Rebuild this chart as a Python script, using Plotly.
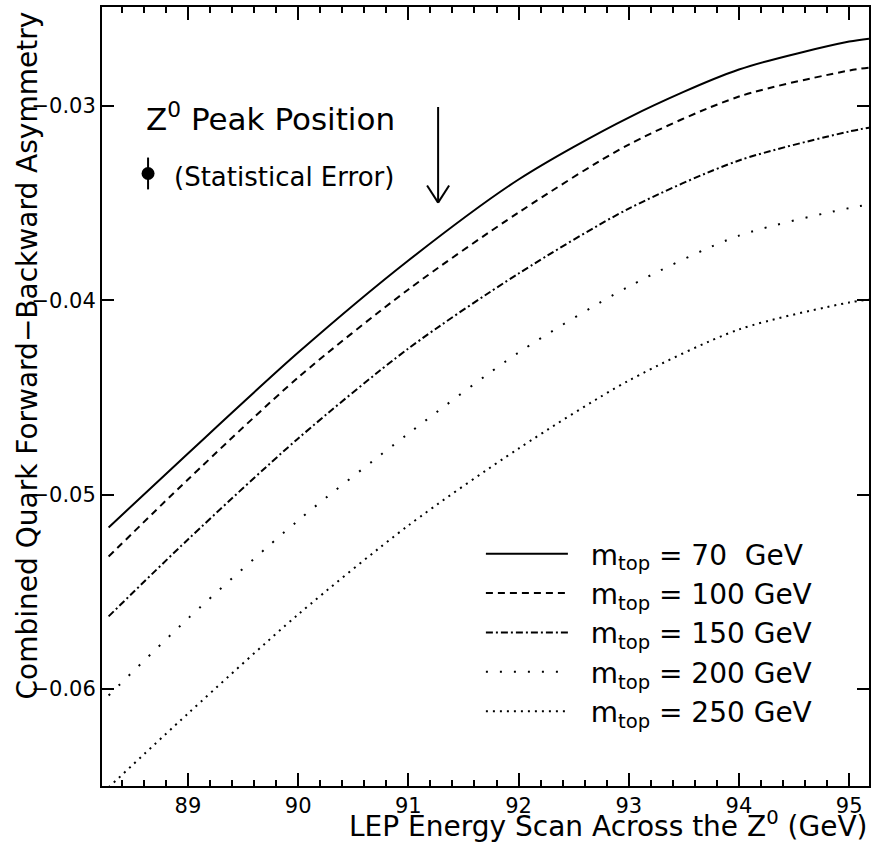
import plotly.graph_objects as go

# ---- data ----
energy = [88.28, 89, 90, 91, 92, 93, 94, 95, 95.18]
afb_70 = [-0.05169, -0.04788, -0.04269, -0.03795, -0.03378, -0.03059, -0.02812, -0.02668, -0.02653]
afb_100 = [-0.05319, -0.04922, -0.04397, -0.03944, -0.03548, -0.03198, -0.02951, -0.02817, -0.02802]
afb_150 = [-0.05627, -0.05231, -0.04711, -0.04248, -0.03862, -0.03528, -0.03280, -0.03131, -0.03111]
afb_200 = [-0.06034, -0.05638, -0.05133, -0.04686, -0.04269, -0.03929, -0.03667, -0.03525, -0.03507]
afb_250 = [-0.06507, -0.06127, -0.05617, -0.05159, -0.04763, -0.04413, -0.04150, -0.04011, -0.03996]

series_names = [
    "\u00a0\u00a0m<sub>top</sub> = 70\u00a0\u00a0GeV",
    "\u00a0\u00a0m<sub>top</sub> = 100 GeV",
    "\u00a0\u00a0m<sub>top</sub> = 150 GeV",
    "\u00a0\u00a0m<sub>top</sub> = 200 GeV",
    "\u00a0\u00a0m<sub>top</sub> = 250 GeV",
]
series_values = [afb_70, afb_100, afb_150, afb_200, afb_250]
series_dash = ["solid", "7px,5px", "7px,3px,2px,3px", "2px,12px", "2px,5px"]

x_ticks = [89, 90, 91, 92, 93, 94, 95]
y_ticks = [-0.06, -0.05, -0.04, -0.03]
y_ticktext = ["\u22120.06", "\u22120.05", "\u22120.04", "\u22120.03"]

peak_energy = 91.27
peak_arrow_top = -0.02997
peak_arrow_tip = -0.03497

err_point_x = [88.638]
err_point_y = [-0.03347]
err_size = [0.00082]

FONT = "DejaVu Sans"

fig = go.Figure()
for name, vals, dash in zip(series_names, series_values, series_dash):
    fig.add_trace(go.Scatter(
        x=energy, y=vals, mode="lines", name=name,
        line=dict(color="black", width=2, dash=dash, shape="spline", smoothing=0.8),
    ))

fig.add_trace(go.Scatter(
    x=err_point_x, y=err_point_y, mode="markers", showlegend=False,
    marker=dict(color="black", size=13),
    error_y=dict(type="data", array=err_size, color="black", thickness=2, width=0),
))

# arrow for Z0 peak position
fig.add_annotation(
    x=peak_energy, y=peak_arrow_tip, ax=peak_energy, ay=peak_arrow_top,
    xref="x", yref="y", axref="x", ayref="y",
    showarrow=True, arrowhead=0, arrowwidth=2, arrowcolor="black", text="",
)
head_dx = 0.1
head_dy = 0.00088
for s in (-1, 1):
    fig.add_shape(type="line", xref="x", yref="y",
                  x0=peak_energy + s * head_dx, y0=peak_arrow_tip + head_dy,
                  x1=peak_energy, y1=peak_arrow_tip,
                  line=dict(color="black", width=2))

fig.add_annotation(x=88.60, y=-0.03054, xref="x", yref="y", xanchor="left", yanchor="middle",
                   text="Z<sup>0</sup> Peak Position", showarrow=False,
                   font=dict(family=FONT, size=31, color="black"))
fig.add_annotation(x=88.855, y=-0.03363, xref="x", yref="y", xanchor="left", yanchor="middle",
                   text="(Statistical Error)", showarrow=False,
                   font=dict(family=FONT, size=26, color="black"))

# axis titles
fig.add_annotation(x=1.0, y=-0.049, xref="paper", yref="paper", xanchor="right", yanchor="middle",
                   text="LEP Energy Scan Across the Z<sup>0</sup> (GeV)", showarrow=False,
                   font=dict(family=FONT, size=28, color="black"))
fig.add_annotation(x=-0.0975, y=0.553, xref="paper", yref="paper", xanchor="center", yanchor="middle",
                   textangle=-90,
                   text="Combined Quark Forward\u2212Backward Asymmetry", showarrow=False,
                   font=dict(family=FONT, size=28, color="black"))

fig.update_layout(
    width=874, height=845,
    margin=dict(l=102, r=3, t=7, b=59),
    paper_bgcolor="white", plot_bgcolor="white",
    font=dict(family=FONT, size=21, color="black"),
    showlegend=True,
    legend=dict(x=0.494, y=0.33, xanchor="left", yanchor="top",
                bgcolor="rgba(0,0,0,0)", borderwidth=0,
                font=dict(family=FONT, size=28, color="black"),
                itemwidth=82, tracegroupgap=0),
    xaxis=dict(range=[88.22, 95.18], tickvals=x_ticks, ticks="inside", ticklen=13, tickwidth=2,
               tickcolor="black", showline=True, linecolor="black", linewidth=2, mirror="allticks",
               showgrid=False, zeroline=False,
               minor=dict(dtick=0.2, ticks="inside", ticklen=6, tickwidth=2, tickcolor="black", showgrid=False),
               tickfont=dict(family=FONT, size=21, color="black")),
    yaxis=dict(range=[-0.0650, -0.0249], tickvals=y_ticks, ticktext=y_ticktext, ticks="inside",
               ticklen=12, tickwidth=2, tickcolor="black", showline=True, linecolor="black",
               linewidth=2, mirror="allticks", showgrid=False, zeroline=False,
               tickfont=dict(family=FONT, size=21, color="black")),
)

fig.write_html("out.html")
